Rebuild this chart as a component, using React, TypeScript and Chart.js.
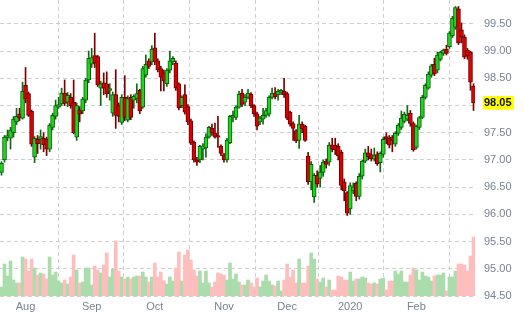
import React, { useEffect, useRef } from 'react';
import { Chart, registerables } from 'chart.js';

Chart.register(...registerables);

// Daily OHLC, late Jul 2019 .. end Feb 2020 (one entry per trading day)
const opens = [
  96.77, 97.0, 97.42, 97.4, 97.5, 97.7, 97.85, 97.77, 98.37, 98.22,
  97.9, 97.05, 97.38, 97.38, 97.4, 97.38, 97.2, 97.6, 97.8, 97.97,
  98.03, 98.23, 98.06, 98.15, 98.06, 97.42, 97.92, 97.9, 98.1, 98.47,
  98.76, 98.92, 98.9, 98.32, 98.42, 98.4, 98.28, 97.86, 98.2, 98.0,
  97.69, 98.15, 97.73, 98.15, 98.1, 98.13, 98.28, 97.97, 98.56, 98.82,
  98.8, 99.06, 98.82, 98.68, 98.6, 98.4, 98.65, 98.8, 98.78, 98.4,
  98.0, 98.2, 97.98, 97.72, 97.33, 97.0, 97.0, 97.2, 97.22, 97.42,
  97.58, 97.5, 97.45, 97.25, 97.1, 97.0, 97.32, 97.78, 97.78, 97.97,
  98.23, 98.06, 98.15, 98.21, 98.0, 97.85, 97.7, 97.75, 97.82, 97.84,
  98.15, 98.23, 98.2, 98.24, 98.26, 98.22, 97.88, 97.67, 97.54, 97.36,
  97.66, 97.62, 97.07, 96.6, 96.32, 96.72, 96.66, 96.77, 96.98, 96.96,
  97.28, 97.27, 97.25, 97.14, 96.6, 96.4, 96.1, 96.44, 96.57, 96.33,
  96.7, 96.98, 97.13, 97.1, 97.02, 97.1, 96.95, 97.1, 97.43, 97.4,
  97.42, 97.29, 97.49, 97.6, 97.71, 97.75, 97.86, 97.67, 97.23, 97.6,
  97.78, 98.15, 98.32, 98.56, 98.76, 98.65, 98.85, 98.96, 99.04, 99.08,
  99.28, 99.44, 99.78, 99.39, 99.26, 99.02, 98.98, 98.36,
];
const highs = [
  96.97, 97.45, 97.55, 97.6, 97.8, 97.95, 97.95, 98.43, 98.7, 98.25,
  97.92, 97.43, 97.45, 97.55, 97.5, 97.42, 97.67, 97.86, 98.1, 98.15,
  98.32, 98.47, 98.24, 98.22, 98.47, 98.05, 97.98, 98.15, 98.5, 99.0,
  99.05, 99.33, 98.92, 98.45, 98.6, 98.62, 98.4, 98.25, 98.66, 98.05,
  98.2, 98.55, 98.18, 98.2, 98.2, 98.4, 98.3, 98.72, 98.93, 98.86,
  99.1, 99.33, 98.86, 98.72, 98.65, 98.68, 99.0, 98.9, 98.82, 98.42,
  98.18, 98.38, 98.02, 97.75, 97.35, 97.05, 97.27, 97.3, 97.48, 97.62,
  97.66, 97.68, 97.8, 97.28, 97.12, 97.4, 97.82, 97.9, 98.0, 98.26,
  98.3, 98.2, 98.3, 98.24, 98.02, 97.88, 97.8, 97.95, 97.95, 98.18,
  98.32, 98.33, 98.3, 98.3, 98.5, 98.25, 97.9, 97.7, 97.56, 97.82,
  97.7, 97.64, 97.14, 96.97, 96.75, 96.8, 96.9, 97.0, 97.02, 97.32,
  97.4, 97.4, 97.3, 97.18, 96.65, 96.42, 96.58, 96.58, 96.6, 96.75,
  97.0, 97.2, 97.25, 97.2, 97.22, 97.15, 97.15, 97.42, 97.5, 97.45,
  97.45, 97.52, 97.67, 97.9, 97.88, 98.0, 97.91, 97.7, 97.64, 97.8,
  98.19, 98.4, 98.62, 98.76, 98.87, 98.98, 99.0, 99.04, 99.11, 99.36,
  99.64, 99.82, 99.82, 99.52, 99.3, 99.05, 99.0, 98.4,
];
const lows = [
  96.72, 96.96, 97.35, 97.2, 97.42, 97.65, 97.72, 97.75, 98.05, 97.8,
  97.25, 96.95, 97.12, 97.2, 97.15, 97.08, 97.15, 97.55, 97.75, 97.95,
  98.0, 98.0, 97.98, 97.95, 97.48, 97.36, 97.7, 97.85, 98.05, 98.42,
  98.7, 98.7, 98.35, 98.0, 98.2, 98.15, 98.1, 97.8, 97.58, 97.7,
  97.65, 97.72, 97.7, 97.74, 97.95, 98.05, 97.85, 97.95, 98.52, 98.68,
  98.75, 98.75, 98.62, 98.27, 98.27, 98.35, 98.6, 98.75, 98.28, 97.92,
  97.96, 97.84, 97.65, 97.28, 96.96, 96.9, 96.95, 97.0, 97.05, 97.4,
  97.45, 97.4, 97.23, 97.08, 96.96, 96.96, 97.3, 97.7, 97.74, 97.95,
  97.98, 98.0, 98.12, 97.96, 97.8, 97.55, 97.65, 97.66, 97.78, 97.8,
  98.12, 98.12, 98.1, 98.2, 98.15, 97.74, 97.62, 97.36, 97.32, 97.21,
  97.5, 97.34, 96.55, 96.45, 96.22, 96.5, 96.5, 96.7, 96.85, 96.9,
  97.15, 97.1, 97.0, 96.45, 96.25, 95.98, 96.0, 96.38, 96.25, 96.28,
  96.65, 96.95, 97.0, 96.98, 96.98, 96.9, 96.78, 97.05, 97.3, 97.22,
  97.15, 97.25, 97.45, 97.56, 97.68, 97.72, 97.62, 97.16, 97.2, 97.56,
  97.76, 98.12, 98.3, 98.52, 98.55, 98.6, 98.82, 98.92, 98.93, 99.05,
  99.25, 99.4, 99.12, 99.15, 98.86, 98.85, 98.28, 97.91,
];
const closes = [
  96.94, 97.42, 97.45, 97.55, 97.75, 97.8, 97.77, 98.26, 98.12, 97.82,
  97.29, 97.4, 97.3, 97.43, 97.28, 97.2, 97.64, 97.82, 98.0, 98.02,
  98.23, 98.04, 98.19, 98.0, 97.5, 98.0, 97.84, 98.12, 98.47, 98.87,
  98.88, 98.78, 98.38, 98.4, 98.32, 98.22, 98.31, 98.2, 97.82, 97.8,
  98.15, 97.78, 98.13, 97.78, 98.17, 98.22, 97.9, 98.68, 98.76, 98.72,
  99.04, 98.8, 98.66, 98.52, 98.45, 98.65, 98.82, 98.87, 98.32, 97.96,
  98.15, 97.88, 97.7, 97.31, 97.0, 96.96, 97.25, 97.26, 97.42, 97.6,
  97.5, 97.42, 97.42, 97.12, 97.0, 97.36, 97.8, 97.82, 97.97, 98.21,
  98.02, 98.15, 98.23, 98.0, 97.85, 97.62, 97.77, 97.82, 97.91, 98.15,
  98.23, 98.16, 98.26, 98.28, 98.2, 97.77, 97.66, 97.58, 97.35, 97.66,
  97.57, 97.36, 96.6, 96.92, 96.72, 96.56, 96.78, 96.96, 96.92, 97.27,
  97.2, 97.19, 97.08, 96.53, 96.43, 96.02, 96.53, 96.5, 96.33, 96.7,
  96.98, 97.13, 97.06, 97.02, 97.08, 96.93, 97.12, 97.38, 97.38, 97.27,
  97.36, 97.49, 97.64, 97.77, 97.84, 97.82, 97.67, 97.19, 97.62, 97.78,
  98.15, 98.37, 98.58, 98.73, 98.58, 98.93, 98.98, 99.02, 98.96, 99.33,
  99.61, 99.8, 99.15, 99.26, 98.89, 98.91, 98.43, 98.05,
];
// Relative daily volume (arbitrary units)
const volumes = [
  9, 32, 20, 35, 16, 13, 13, 39, 37, 25,
  37, 28, 21, 23, 22, 17, 39, 21, 24, 15,
  13, 16, 12, 19, 41, 26, 13, 14, 28, 28,
  11, 30, 26, 23, 31, 43, 19, 27, 55, 25,
  19, 17, 19, 17, 19, 20, 20, 24, 19, 14,
  19, 33, 19, 24, 15, 12, 19, 15, 28, 44,
  15, 41, 46, 36, 26, 20, 25, 13, 25, 13,
  9, 14, 23, 22, 21, 16, 33, 17, 22, 14,
  11, 11, 16, 13, 9, 18, 9, 15, 21, 15,
  11, 10, 15, 5, 16, 32, 19, 26, 13, 37,
  13, 13, 30, 43, 37, 17, 14, 18, 9, 16,
  6, 6, 20, 19, 16, 16, 24, 15, 17, 17,
  19, 18, 13, 12, 13, 12, 17, 18, 6, 15,
  15, 25, 22, 25, 14, 14, 21, 28, 26, 16,
  24, 20, 19, 15, 20, 21, 21, 23, 5, 19,
  19, 25, 32, 32, 31, 25, 40, 59,
];

// X-axis labels and the trading-day index where each month starts
const monthLabels = ['Aug', 'Sep', 'Oct', 'Nov', 'Dec', '2020', 'Feb'];
const monthStartIndex = [8, 30, 51, 74, 95, 116, 138];
// Y-axis tick labels
const priceTicks = [94.5, 95.0, 95.5, 96.0, 96.5, 97.0, 97.5, 98.0, 98.5, 99.0, 99.5];

const FONT = '"Liberation Sans", Arial, sans-serif';
const TICK_COLOR = '#778293';
const GRID_COLOR = '#cfcfcf';

export default function App() {
  const ref = useRef<HTMLCanvasElement>(null);

  useEffect(() => {
    const idx = closes.map((_, i) => i);
    const up = closes.map((c, i) => c >= opens[i]);

    const lastPrice = {
      id: 'lastPrice',
      afterDraw(chart: any) {
        const { ctx, chartArea, scales } = chart;
        const v = closes[closes.length - 1];
        const y = scales.y.getPixelForValue(v);
        ctx.save();
        ctx.fillStyle = '#ffff00';
        ctx.fillRect(chartArea.right + 8, y - 6.8, 31, 13.6);
        ctx.fillStyle = '#111111';
        ctx.font = 'bold 11px ' + FONT;
        ctx.textBaseline = 'middle';
        ctx.textAlign = 'left';
        ctx.fillText(v.toFixed(2), chartArea.right + 9, y + 0.5);
        ctx.restore();
      },
    };

    const chart = new Chart(ref.current as HTMLCanvasElement, {
      type: 'bar',
      data: {
        datasets: [
          {
            label: 'body',
            data: idx.map((i) => ({ x: i, y: [Math.min(opens[i], closes[i]), Math.max(opens[i], closes[i])] })) as any,
            backgroundColor: up.map((u) => (u ? '#22d322' : '#dd0000')),
            borderColor: up.map((u) => (u ? '#0a5c0a' : '#6a0000')),
            borderWidth: 1,
            borderSkipped: false,
            barThickness: 4,
            grouped: false,
            yAxisID: 'y',
            order: 0,
          } as any,
          {
            label: 'wick',
            data: idx.map((i) => ({ x: i, y: [lows[i], highs[i]] })) as any,
            backgroundColor: up.map((u) => (u ? '#0f6a0f' : '#7a0000')),
            borderWidth: 0,
            barThickness: 1,
            grouped: false,
            yAxisID: 'y',
            order: 1,
          } as any,
          {
            label: 'volume',
            data: idx.map((i) => ({ x: i, y: volumes[i] })) as any,
            backgroundColor: up.map((u) => (u ? '#abdcab' : '#ffbebe')),
            borderWidth: 0,
            barPercentage: 1,
            categoryPercentage: 1,
            grouped: false,
            yAxisID: 'yv',
            order: 2,
          } as any,
        ],
      },
      options: {
        animation: false,
        responsive: false,
        devicePixelRatio: 1,
        layout: { padding: 0 },
        plugins: { legend: { display: false }, tooltip: { enabled: false } },
        scales: {
          x: {
            type: 'linear',
            min: -0.5,
            max: closes.length - 0.5,
            offset: false,
            afterBuildTicks: (s: any) => {
              s.ticks = monthStartIndex.map((v) => ({ value: v }));
            },
            afterFit: (s: any) => {
              s.height = 18;
              s.paddingLeft = 0;
              s.paddingRight = 0;
            },
            ticks: {
              autoSkip: false,
              maxRotation: 0,
              padding: 4,
              color: TICK_COLOR,
              font: { family: FONT, size: 11 },
              callback: (v: any) => {
                const k = monthStartIndex.indexOf(Number(v));
                return k >= 0 ? monthLabels[k] : '';
              },
            },
            grid: { color: GRID_COLOR, drawTicks: false, lineWidth: 1 },
            border: { display: false, dash: [4, 3] },
          } as any,
          y: {
            type: 'linear',
            position: 'right',
            min: 94.5,
            max: 99.94,
            afterBuildTicks: (s: any) => {
              s.ticks = priceTicks.map((v) => ({ value: v }));
            },
            afterFit: (s: any) => {
              s.width = 49;
              s.paddingTop = 0;
              s.paddingBottom = 0;
            },
            ticks: {
              padding: 9,
              color: TICK_COLOR,
              font: { family: FONT, size: 11 },
              callback: (v: any) => Number(v).toFixed(2),
            },
            grid: { color: GRID_COLOR, drawTicks: false, lineWidth: 1 },
            border: { display: false, dash: [4, 3] },
          } as any,
          yv: {
            type: 'linear',
            display: false,
            min: 0,
            max: 296,
          } as any,
        },
      },
      plugins: [lastPrice],
    });
    return () => chart.destroy();
  }, []);

  return (
    <div style={{ position: 'absolute', left: 0, top: 0, width: 524, height: 314, background: '#ffffff' }}>
      <canvas ref={ref} width={524} height={314} style={{ display: 'block' }} />
    </div>
  );
}
